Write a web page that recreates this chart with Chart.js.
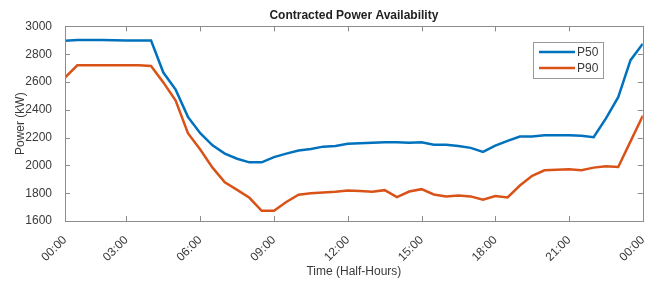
<!DOCTYPE html>
<html>
<head>
<meta charset="utf-8">
<script src="https://cdn.jsdelivr.net/npm/chart.js@4.4.1/dist/chart.umd.min.js"></script>
<style>
  html, body { margin: 0; padding: 0; background: #fff; }
  #wrap { width: 657px; height: 284px; }
</style>
</head>
<body>
<div id="wrap"><canvas id="powerChart" width="657" height="284"></canvas></div>
<script>
// Half-hour power availability (kW)
const p50 = [2896, 2903, 2903, 2903, 2901, 2899, 2899, 2899, 2668, 2545, 2349, 2232,
             2144, 2085, 2048, 2022, 2022, 2060, 2085, 2107, 2118, 2135, 2140, 2156,
             2159, 2163, 2166, 2166, 2163, 2166, 2149, 2149, 2140, 2126, 2097, 2142,
             2177, 2208, 2208, 2217, 2217, 2217, 2213, 2203, 2338, 2491, 2757, 2875];
const p90 = [2632, 2720, 2720, 2720, 2720, 2720, 2720, 2715, 2597, 2467, 2232, 2114,
             1984, 1878, 1824, 1767, 1673, 1673, 1737, 1789, 1800, 1805, 1810, 1819,
             1815, 1810, 1822, 1772, 1812, 1829, 1791, 1777, 1784, 1777, 1753, 1779,
             1770, 1855, 1925, 1965, 1968, 1972, 1965, 1984, 1994, 1989, 2173, 2357];
const tickSlots = [1, 6, 12, 18, 24, 30, 36, 42, 48];
const tickLabels = ['00:00', '03:00', '06:00', '09:00', '12:00', '15:00', '18:00', '21:00', '00:00'];

const FONT = "'Liberation Sans', Arial, Helvetica, sans-serif";
const TEXT = '#3a3a3a';
const AXIS = '#8c8c8c';

// box, inward ticks and the legend, drawn like the original figure
const figureBox = {
    id: 'figureBox',
    afterDatasetsDraw(chart) {
        const { ctx, chartArea: a, scales: { x, y } } = chart;
        ctx.save();
        ctx.strokeStyle = AXIS;
        ctx.lineWidth = 1;
        ctx.strokeRect(Math.round(a.left) + 0.5, Math.round(a.top) + 0.5,
            Math.round(a.right - a.left), Math.round(a.bottom - a.top));
        ctx.beginPath();
        x.ticks.forEach(t => {
            const px = Math.round(x.getPixelForValue(t.value)) + 0.5;
            ctx.moveTo(px, a.bottom); ctx.lineTo(px, a.bottom - 5);
            ctx.moveTo(px, a.top); ctx.lineTo(px, a.top + 5);
        });
        y.ticks.forEach(t => {
            const py = Math.round(y.getPixelForValue(t.value)) + 0.5;
            ctx.moveTo(a.left, py); ctx.lineTo(a.left + 5, py);
            ctx.moveTo(a.right, py); ctx.lineTo(a.right - 5, py);
        });
        ctx.stroke();

        // legend
        const lx = Math.round(a.right) - 110, ly = Math.round(a.top) + 16;
        ctx.fillStyle = '#fff';
        ctx.fillRect(lx, ly, 70, 36);
        ctx.strokeStyle = '#999';
        ctx.strokeRect(lx + 0.5, ly + 0.5, 70, 36);
        ctx.font = '12px ' + FONT;
        ctx.textBaseline = 'middle';
        chart.data.datasets.forEach((ds, i) => {
            const yy = ly + 10 + i * 16;
            ctx.strokeStyle = ds.borderColor;
            ctx.lineWidth = 2.5;
            ctx.beginPath();
            ctx.moveTo(lx + 6, yy); ctx.lineTo(lx + 42, yy);
            ctx.stroke();
            ctx.fillStyle = TEXT;
            ctx.fillText(ds.label, lx + 44, yy + 1);
        });
        ctx.restore();
    }
};

document.addEventListener('DOMContentLoaded', function() {
    const ctx = document.getElementById('powerChart').getContext('2d');
    new Chart(ctx, {
        type: 'line',
        data: {
            datasets: [
                {
                    label: 'P50',
                    data: p50.map((v, i) => ({ x: i + 1, y: v })),
                    borderColor: '#0072BD',
                    borderWidth: 2.5,
                    pointRadius: 0,
                    tension: 0
                },
                {
                    label: 'P90',
                    data: p90.map((v, i) => ({ x: i + 1, y: v })),
                    borderColor: '#D95319',
                    borderWidth: 2.5,
                    pointRadius: 0,
                    tension: 0
                }
            ]
        },
        options: {
            responsive: false,
            animation: false,
            layout: { padding: { left: 0, right: 14, top: 0, bottom: 0 } },
            scales: {
                x: {
                    type: 'linear',
                    min: 1,
                    max: 48,
                    afterBuildTicks: axis => { axis.ticks = tickSlots.map(v => ({ value: v })); },
                    afterFit: axis => { axis.height = 63; },
                    grid: { display: false },
                    border: { display: false },
                    ticks: {
                        autoSkip: false,
                        minRotation: 45,
                        maxRotation: 45,
                        padding: 4,
                        color: TEXT,
                        font: { family: FONT, size: 12 },
                        callback: v => tickLabels[tickSlots.indexOf(v)]
                    },
                    title: {
                        display: true,
                        text: 'Time (Half-Hours)',
                        color: TEXT,
                        font: { family: FONT, size: 12 },
                        padding: { top: 0, bottom: 5 }
                    }
                },
                y: {
                    min: 1600,
                    max: 3000,
                    afterFit: axis => { axis.width = 65; },
                    grid: { display: false },
                    border: { display: false },
                    ticks: {
                        stepSize: 200,
                        padding: 5,
                        color: TEXT,
                        font: { family: FONT, size: 12 },
                        callback: v => String(v)
                    },
                    title: {
                        display: true,
                        text: 'Power (kW)',
                        color: TEXT,
                        font: { family: FONT, size: 12 },
                        padding: { top: 13, bottom: 0 }
                    }
                }
            },
            plugins: {
                legend: { display: false },
                tooltip: { enabled: false },
                title: {
                    display: true,
                    fullSize: false,
                    text: 'Contracted Power Availability',
                    color: '#222',
                    font: { family: FONT, size: 12, weight: 'bold' },
                    padding: { top: 8, bottom: 4 }
                }
            }
        },
        plugins: [figureBox]
    });
});
</script>
</body>
</html>
